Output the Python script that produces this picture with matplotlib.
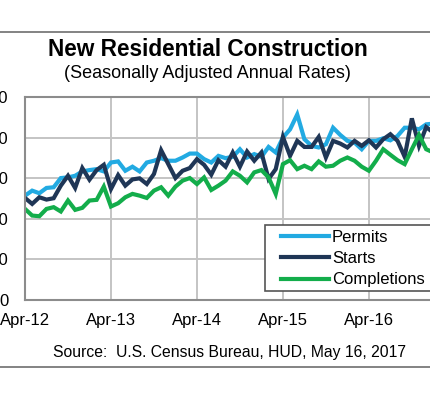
import matplotlib
matplotlib.use("Agg")
import matplotlib.pyplot as plt
from matplotlib.lines import Line2D
from matplotlib.patches import Rectangle
import numpy as np

# monthly, Apr-12 .. Apr-17, thousands of units (SAAR)
months = ["Apr-12", "Apr-13", "Apr-14", "Apr-15", "Apr-16", "Apr-17"]
permits = [771, 808, 789, 828, 833, 901, 906, 918, 950, 960, 967, 950,
           1016, 1024, 955, 985, 950, 1016, 1029, 1048, 1029, 1029, 1053, 1082,
           1082, 1041, 1016, 1065, 1048, 1058, 1114, 1053, 1078, 1058, 1131, 1090,
           1200, 1261, 1371, 1188, 1139, 1127, 1151, 1273, 1220, 1176, 1163, 1114,
           1176, 1176, 1195, 1180, 1212, 1273, 1273, 1261, 1298, 1303, 1260, 1216,
           1228]
starts = [754, 710, 759, 742, 752, 845, 918, 828, 975, 889, 960, 999,
          820, 923, 845, 891, 899, 857, 931, 1107, 1004, 901, 955, 975,
          1041, 999, 926, 1033, 985, 1090, 985, 1097, 1029, 1090, 894, 967,
          1205, 1065, 1176, 1131, 1131, 1205, 1053, 1176, 1156, 1127, 1176, 1139,
          1180, 1127, 1188, 1225, 1176, 1058, 1342, 1139, 1278, 1237, 1288, 1203,
          1172]
completions = [673, 624, 619, 673, 686, 654, 735, 666, 681, 735, 740, 838,
               691, 715, 759, 784, 771, 754, 808, 833, 771, 838, 882, 901,
               857, 906, 813, 845, 882, 950, 918, 869, 943, 960, 906, 784,
               1004, 1033, 967, 992, 967, 1024, 985, 992, 1029, 1053, 1029, 985,
               955, 1029, 1114, 1073, 1033, 1004, 1114, 1220, 1114, 1090, 1110, 1160,
               1180]
y_ticks = [0, 300, 600, 900, 1200, 1500]

plt.rcParams["font.family"] = ["Liberation Sans", "DejaVu Sans"]

fig = plt.figure(figsize=(4.3, 4.0), dpi=100)
W, H = 430, 400


def px(x0, y0, x1, y1):
    # pixel box (top-left origin) -> figure fraction rect
    return [x0 / W, 1 - y1 / H, (x1 - x0) / W, (y1 - y0) / H]


ax = fig.add_axes(px(25, 97, 462, 300))
x = np.arange(len(permits))
ax.plot(x, permits, color="#22aae2", lw=3, label="Permits", solid_joinstyle="miter")
ax.plot(x, starts, color="#1f3656", lw=3, label="Starts", solid_joinstyle="miter")
ax.plot(x, completions, color="#13ad4b", lw=3, label="Completions", solid_joinstyle="miter")

ax.set_xlim(0, 61)
ax.set_ylim(0, 1500)
ax.set_xticks(np.arange(len(months)) * 12)
ax.set_xticklabels(months)
ax.set_yticks(y_ticks)
ax.set_yticklabels([f"{v:,}" for v in y_ticks])
ax.tick_params(length=0, labelsize=12, colors="black")
ax.tick_params(axis="y", pad=12)
ax.tick_params(axis="x", pad=9)
ax.grid(True, color="#c4c4c4", lw=1.4)
ax.set_axisbelow(True)
for s in ax.spines.values():
    s.set_color("#8c8c8c")
    s.set_linewidth(1.5)

# legend box runs off the right edge, so draw the frame by hand
ax.add_patch(Rectangle((265 / W, 1 - 291 / H), 180 / W, 66 / H,
                       transform=fig.transFigure, facecolor="white",
                       edgecolor="#555555", lw=1.2, zorder=5, clip_on=False))
leg = ax.legend(loc="center left", bbox_to_anchor=(281 / W, 1 - 258.5 / H),
                bbox_transform=fig.transFigure, fontsize=12, frameon=False,
                borderaxespad=0, borderpad=0, handlelength=2.9,
                handletextpad=0.15, labelspacing=0.38)
leg.set_zorder(6)

fig.text(208 / W, 1 - 49 / H, "New Residential Construction", ha="center",
         va="center", fontsize=16.3, fontweight="bold")
fig.text(207 / W, 1 - 74 / H, "(Seasonally Adjusted Annual Rates)", ha="center",
         va="center", fontsize=13)
fig.text(230 / W, 1 - 352 / H, "Source:  U.S. Census Bureau, HUD, May 16, 2017",
         ha="center", va="center", fontsize=11.3)

for yy in (32, 367):
    fig.add_artist(Line2D([0, 1], [1 - yy / H, 1 - yy / H], transform=fig.transFigure,
                          color="#6e6e6e", lw=1.2))

fig.savefig("out.png", dpi=100)
